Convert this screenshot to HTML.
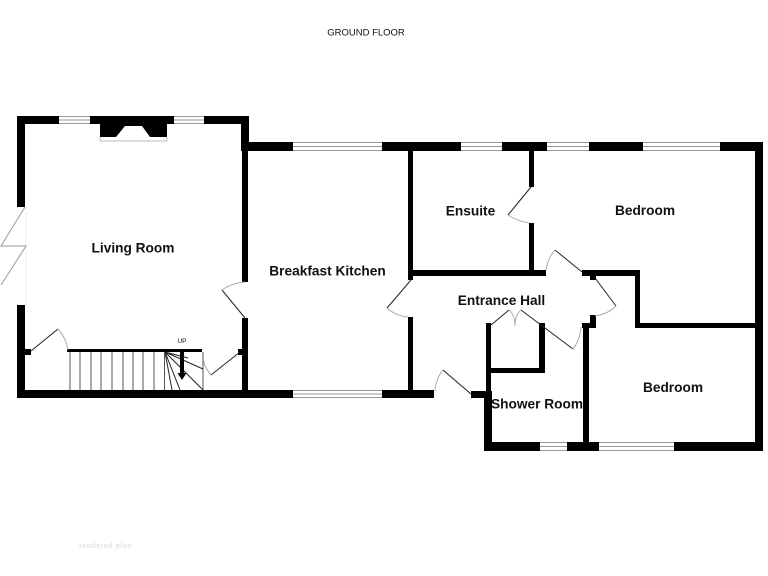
<!DOCTYPE html>
<html><head><meta charset="utf-8"><style>
html,body{margin:0;padding:0;background:#fff}
svg{display:block;filter:blur(.3px)}
text{font-family:"Liberation Sans",sans-serif;fill:#111}
.r{font-weight:bold;font-size:13.700px;text-anchor:middle}
.d{fill:none;stroke:#222;stroke-width:1}
.a{fill:none;stroke:#aaa;stroke-width:1}
.t{stroke:#555;stroke-width:1;fill:none}
.w{stroke:#999;stroke-width:1;fill:none}
</style></head><body>
<svg width="768" height="576" viewBox="0 0 768 576" xmlns="http://www.w3.org/2000/svg">
<rect width="768" height="576" fill="#fff"/>
<text x="366" y="35.500" font-size="9.500" text-anchor="middle">GROUND FLOOR</text>
<text x="105.500" y="548" font-size="7" font-weight="bold" letter-spacing=".5" text-anchor="middle" style="fill:#e2e2e2">rendered plan</text>
<line x1="26" y1="207" x2="26" y2="305" stroke="#efefef"/>
<g fill="#000">
<!-- living room -->
<rect x="17" y="116" width="232" height="8"/>
<rect x="17" y="116" width="8" height="91"/>
<rect x="17" y="305" width="8" height="93"/>
<rect x="241" y="116" width="8" height="35"/>
<rect x="242" y="151" width="6" height="131"/>
<rect x="242" y="318" width="6" height="72"/>
<rect x="17" y="390" width="417" height="8"/>
<rect x="25" y="349" width="6" height="6"/>
<rect x="238" y="349" width="4" height="6"/>
<rect x="67" y="349" width="135" height="3"/>
<!-- top wall -->
<rect x="241" y="142" width="522" height="9"/>
<rect x="755" y="142" width="8" height="309"/>
<!-- ensuite -->
<rect x="408" y="151" width="5" height="129"/>
<rect x="529" y="151" width="5" height="36"/>
<rect x="529" y="223" width="5" height="47"/>
<rect x="408" y="270" width="138" height="6"/>
<rect x="582" y="270" width="58" height="6"/>
<rect x="590" y="275" width="6" height="5"/>
<rect x="635" y="270" width="5" height="58"/>
<rect x="635" y="323" width="120" height="5"/>
<!-- hall -->
<rect x="408" y="317" width="5" height="75"/>
<rect x="471" y="391" width="21" height="7"/>
<rect x="486" y="323" width="5" height="120"/>
<rect x="484" y="398" width="8" height="45"/>
<rect x="486" y="368" width="59" height="5"/>
<rect x="539" y="323" width="6" height="50"/>
<rect x="583" y="323" width="6" height="120"/>
<rect x="582" y="323" width="14" height="5"/>
<rect x="590" y="315" width="6" height="13"/>
<rect x="484" y="442" width="279" height="9"/>
<!-- fireplace -->
<path d="M100 124H167V137H150L142 126H125L116 137H100Z"/>
</g>
<path d="M100 137V141H167V137" fill="none" stroke="#bbb"/>
<!-- windows -->
<g fill="#fff" stroke="none">
<rect x="59" y="116" width="31" height="8"/>
<rect x="174" y="116" width="30" height="8"/>
<rect x="293" y="142" width="89" height="9"/>
<rect x="461" y="142" width="41" height="9"/>
<rect x="547" y="142" width="42" height="9"/>
<rect x="643" y="142" width="77" height="9"/>
<rect x="293" y="390" width="89" height="8"/>
<rect x="540" y="442" width="27" height="9"/>
<rect x="599" y="442" width="75" height="9"/>
</g>
<path class="w" d="M59 116.500H90M59 120H90M59 123.500H90M174 116.500H204M174 120H204M174 123.500H204M293 142.500H382M293 146.500H382M293 150.500H382M461 142.500H502M461 146.500H502M461 150.500H502M547 142.500H589M547 146.500H589M547 150.500H589M643 142.500H720M643 146.500H720M643 150.500H720M293 390.500H382M293 394H382M293 397.500H382M540 442.500H567M540 446.500H567M540 450.500H567M599 442.500H674M599 446.500H674M599 450.500H674"/>
<!-- bifold -->
<path d="M25 207L1 246H26L1 285" fill="none" stroke="#999"/>
<!-- doors -->
<path class="d" d="M245 318L222 290M31 351L58 329M240 352L211 375M531 187L508 215M582 272L555 250M595 278L616 306M411 280L387 308M443 370L471 394M491 325L509 310M521 310L573 349"/>
<path class="a" d="M222 290Q232 283 245 282M58 329Q66 338 68 350M211 375Q205 368 203 360M508 215Q517 221 529 223M555 250Q548 258 546 270M616 306Q608 314 595 316M387 308Q396 316 408 317M443 370Q436 378 435 391M509 310Q515 315 515 326Q515 315 521 310M573 349Q580 340 581 327"/>
<!-- stairs -->
<path class="t" d="M70 352V390M80 352V390M91 352V390M101 352V390M112 352V390M123 352V390M133 352V390M143 352V390M154 352V390M164.500 352V390M203 352V390"/>
<path d="M165 352L203 369M165 352L203 390M165 352L180 390M165 352L172 390M165 352L188 358" stroke="#222" fill="none"/>
<path d="M180 352H184V373H186.500L182 380L177.500 373H180Z" fill="#000"/>
<text x="182" y="343" font-size="6.500" text-anchor="middle">UP</text>
<!-- labels -->
<text class="r" x="133" y="252.500">Living Room</text>
<text class="r" x="327.500" y="275.500">Breakfast Kitchen</text>
<text class="r" x="470.500" y="215.500">Ensuite</text>
<text class="r" x="645" y="215">Bedroom</text>
<text class="r" x="501.500" y="305">Entrance Hall</text>
<text class="r" x="537" y="408.500">Shower Room</text>
<text class="r" x="673" y="392">Bedroom</text>
</svg>
</body></html>
